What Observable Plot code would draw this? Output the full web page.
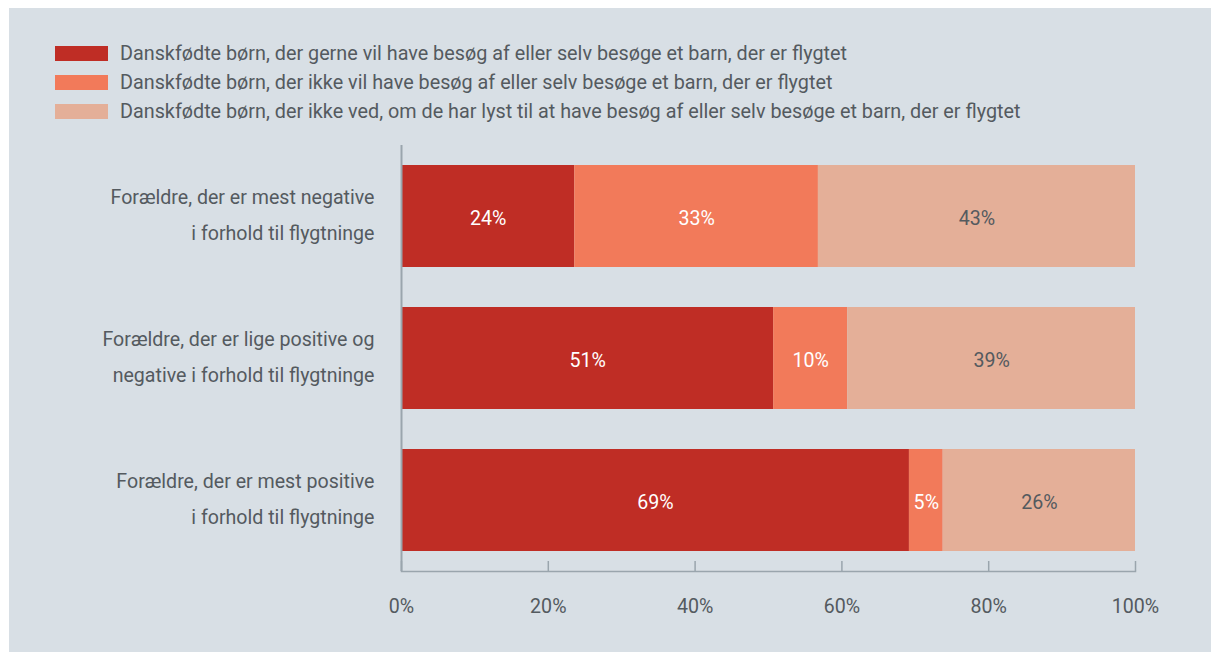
<!DOCTYPE html>
<html>
<head>
<meta charset="utf-8">
<script src="https://cdn.jsdelivr.net/npm/d3@7"></script>
<script src="https://cdn.jsdelivr.net/npm/@observablehq/plot@0.6"></script>
<style>
  html, body { margin: 0; padding: 0; background: #ffffff; }
  #panel { position: absolute; left: 9px; top: 8px; width: 1202px; height: 644px; background: #d8dfe5; overflow: hidden; font-family: Roboto, sans-serif; color: #545a5f; }
  #legend { position: absolute; left: 46px; top: 31px; }
  .row { display: flex; align-items: center; height: 29px; font-size: 19.8px; white-space: nowrap; }
  .sw { width: 53px; height: 15px; margin-right: 12px; flex: none; }
  #chart { position: absolute; left: 0; top: 130px; }
</style>
</head>
<body>
<div id="panel">
  <div id="legend"></div>
  <div id="chart"></div>
</div>
<script>
const categories = [
  "Forældre, der er mest negative\ni forhold til flygtninge",
  "Forældre, der er lige positive og\nnegative i forhold til flygtninge",
  "Forældre, der er mest positive\ni forhold til flygtninge"
];
const seriesNames = [
  "Danskfødte børn, der gerne vil have besøg af eller selv besøge et barn, der er flygtet",
  "Danskfødte børn, der ikke vil have besøg af eller selv besøge et barn, der er flygtet",
  "Danskfødte børn, der ikke ved, om de har lyst til at have besøg af eller selv besøge et barn, der er flygtet"
];
const seriesColors = ["#bf2d25", "#f27a5a", "#e4af98"];
const labelColors = ["#ffffff", "#ffffff", "#545a5f"];
const wantVisit = [23.6, 50.7, 69.2];
const noVisit = [33.2, 10.1, 4.6];
const dontKnow = [43.2, 39.2, 26.2];
const xTicks = [0, 20, 40, 60, 80, 100];

const seriesValues = [wantVisit, noVisit, dontKnow];
const data = [];
seriesNames.forEach((s, si) => {
  categories.forEach((c, ci) => {
    data.push({category: c, series: s, si, value: seriesValues[si][ci]});
  });
});

// legend
const legend = document.getElementById("legend");
seriesNames.forEach((s, i) => {
  const row = document.createElement("div");
  row.className = "row";
  row.innerHTML = `<span class="sw" style="background:${seriesColors[i]}"></span><span class="lt">${s}</span>`;
  legend.appendChild(row);
});

const font = "Roboto, sans-serif";
const fs = 19.6;
const chart = Plot.plot({
  width: 1202,
  height: 500,
  marginLeft: 392,
  marginRight: 76,
  marginTop: 7,
  marginBottom: 67,
  style: {background: "transparent", fontFamily: font, fontSize: fs + "px", color: "#545a5f", overflow: "visible"},
  x: {domain: [0, 100], axis: null},
  y: {domain: categories, paddingInner: 0.282, paddingOuter: 0.141, axis: null},
  color: {domain: seriesNames, range: seriesColors},
  marks: [
    Plot.barX(data, Plot.stackX({x: "value", y: "category", fill: "series", order: null})),
    Plot.text(data, Plot.stackX({x: "value", y: "category", z: "series", order: null,
      text: d => Math.round(d.value) + "%",
      fill: d => labelColors[d.si], fontSize: fs, dy: 2})),
    Plot.text(categories, {x: 0, y: d => d, text: d => d, textAnchor: "end", dx: -27, dy: -6,
      lineHeight: 36 / fs, fill: "#545a5f", fontSize: fs}),
    Plot.ruleX([0], {stroke: "#9aa5ad", strokeWidth: 2}),
    Plot.frame({anchor: "bottom", stroke: "#9aa5ad", strokeWidth: 1.5}),
    Plot.axisX(xTicks, {anchor: "bottom", label: null, tickSize: -10, tickPadding: 38, stroke: "#9aa5ad",
      tickFormat: d => d + "%", fill: "#545a5f", fontSize: fs, strokeWidth: 1.5})
  ]
});
document.getElementById("chart").appendChild(chart);
</script>
</body>
</html>
